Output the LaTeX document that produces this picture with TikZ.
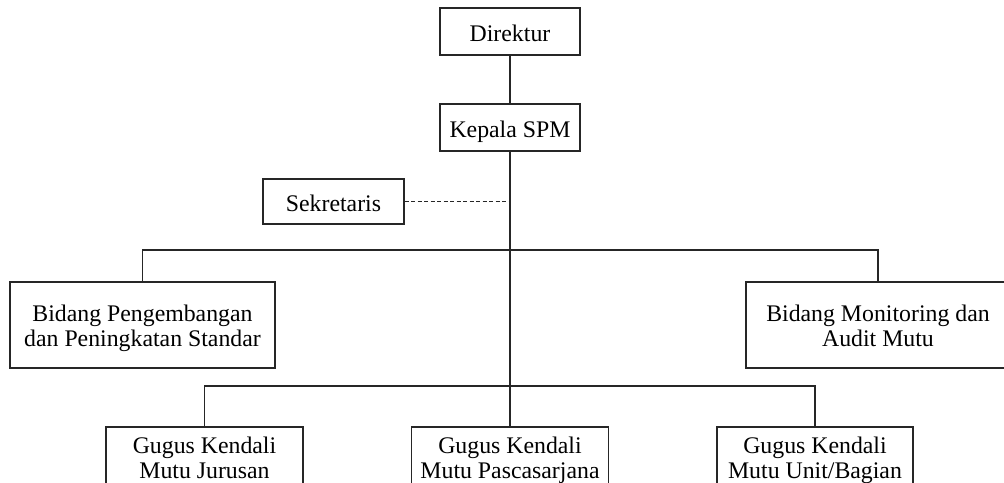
\documentclass[tikz,border=0pt]{standalone}
\usepackage{fontspec}
\setmainfont{Liberation Serif}
\newcommand{\lastln}[1]{\smash{#1}}
\begin{document}
\begin{tikzpicture}[x=1pt,y=-1pt,
  box/.style={draw=black!85,line width=1.2pt,inner sep=0pt,align=center,
    font=\fontsize{23.8}{25}\selectfont},
  onebox/.style={box,text height=20.5pt,text depth=0pt},
  conn/.style={draw=black!85,line width=1.2pt},
  dashconn/.style={draw=black!85,line width=1.5pt,dash pattern=on 4pt off 2.5pt}]
\clip (0,0) rectangle (1004,482);
\fill[white] (0,0) rectangle (1004,482);
\node[onebox,minimum width=140,minimum height=47] (dir) at (510,31.5) {Direktur};
\node[onebox,minimum width=140,minimum height=47] (kep) at (510,127.5) {Kepala SPM};
\node[onebox,minimum width=141,minimum height=45] (sek) at (333.5,201.5) {Sekretaris};
\node[box,minimum width=265,minimum height=86] (bpps) at (142.5,325) {\rule{0pt}{17pt}Bidang Pengembangan\\\lastln{dan Peningkatan Standar}};
\node[box,minimum width=264,minimum height=86] (bmam) at (878,325) {\rule{0pt}{17pt}Bidang Monitoring dan\\\lastln{Audit Mutu}};
\node[box,minimum width=197,minimum height=58] (gkj) at (204.5,456) {\rule{0pt}{20pt}Gugus Kendali\\\lastln{Mutu Jurusan}};
\node[box,minimum width=197,minimum height=58] (gkp) at (510,456) {\rule{0pt}{20pt}Gugus Kendali\\\lastln{Mutu Pascasarjana}};
\node[box,minimum width=196,minimum height=58] (gku) at (815,456) {\rule{0pt}{20pt}Gugus Kendali\\\lastln{Mutu Unit/Bagian}};
\coordinate (h1) at (510,250);
\coordinate (h2) at (510,386);
\draw[conn] (dir.south) -- (kep.north);
\draw[conn] (kep.south) -- (gkp.north);
\draw[conn] (bpps.north) |- (h1) -| (bmam.north);
\draw[conn] (gkj.north) |- (h2) -| (gku.north);
\draw[dashconn] (sek.east) -- (sek.east -| kep.south);
\end{tikzpicture}
\end{document}
